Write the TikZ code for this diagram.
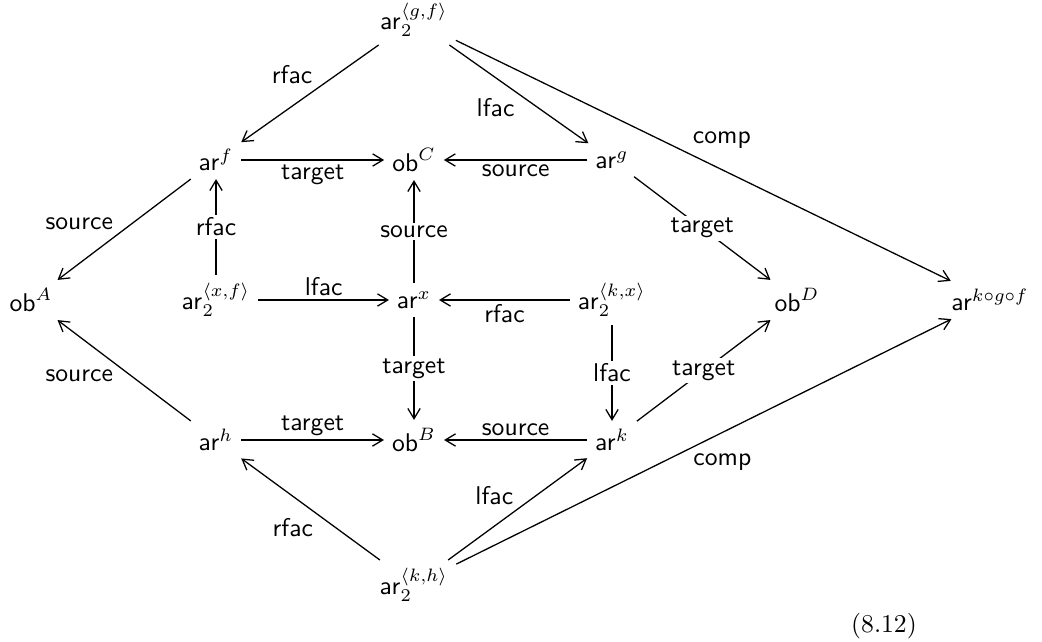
\documentclass[tikz,border=0pt]{standalone}
\usepackage{amsmath}
\usepackage{amssymb}
\usetikzlibrary{arrows.meta}

\tikzset{
  arr/.style={-{Straight Barb[length=4pt,width=4.8pt]},line width=0.5pt},
  obj/.style={inner sep=3pt},
  lbl/.style={font=\sffamily,inner sep=1.5pt},
  onl/.style={font=\sffamily,fill=white,inner sep=1pt}
}

\begin{document}
\begin{tikzpicture}[x=0.39pt,y=-0.39pt]
                      \useasboundingbox (0,0) rectangle (1042,642);
                      \node[obj](gf)at(414,20){$\mathsf{ar}_2^{\langle g,f\rangle}$};
                      \node[obj](f)at(216,160){$\mathsf{ar}^f$};
                      \node[obj](C)at(414,160){$\mathsf{ob}^C$};
                      \node[obj](g)at(612,160){$\mathsf{ar}^g$};
                      \node[obj](A)at(31,300){$\mathsf{ob}^A$};
                      \node[obj](xf)at(216,300){$\mathsf{ar}_2^{\langle x,f\rangle}$};
                      \node[obj](x)at(414,300){$\mathsf{ar}^x$};
                      \node[obj](kx)at(612,300){$\mathsf{ar}_2^{\langle k,x\rangle}$};
                      \node[obj](D)at(797,300){$\mathsf{ob}^D$};
                      \node[obj](kgf)at(990,300){$\mathsf{ar}^{k\circ g\circ f}$};
                      \node[obj](h)at(216,440){$\mathsf{ar}^h$};
                      \node[obj](B)at(414,440){$\mathsf{ob}^B$};
                      \node[obj](k)at(612,440){$\mathsf{ar}^k$};
                      \node[obj](kh)at(414,585){$\mathsf{ar}_2^{\langle k,h\rangle}$};
                      \node(eq)at(884,626){(8.12)};
                      % top half
                      \draw[arr] (gf) -- node[lbl,pos=0.45,above left]{rfac} (f);
                      \draw[arr] (gf) -- node[lbl,below left]{lfac} (g);
                      \draw[arr] (gf) -- node[lbl,pos=0.47,above right]{comp} (kgf);
                      \draw[arr] (f) -- node[lbl,below]{target} (C);
                      \draw[arr] (g) -- node[lbl,below]{source} (C);
                      \draw[arr] (f) -- node[lbl,pos=0.55,above left]{source} (A);
                      \draw[arr] (xf) -- node[onl]{rfac} (f);
                      \draw[arr] (x) -- node[onl]{source} (C);
                      \draw[arr] (g) -- node[onl]{target} (D);
                      % middle row
                      \draw[arr] (xf) -- node[lbl,above]{lfac} (x);
                      \draw[arr] (kx) -- node[lbl,below]{rfac} (x);
                      % bottom half
                      \draw[arr] (x) -- node[onl]{target} (B);
                      \draw[arr] (kx) -- node[onl]{lfac} (k);
                      \draw[arr] (k) -- node[onl]{target} (D);
                      \draw[arr] (h) -- node[lbl,pos=0.55,below left]{source} (A);
                      \draw[arr] (h) -- node[lbl,above]{target} (B);
                      \draw[arr] (k) -- node[lbl,above]{source} (B);
                      \draw[arr] (kh) -- node[lbl,pos=0.45,below left]{rfac} (h);
                      \draw[arr] (kh) -- node[lbl,above left]{lfac} (k);
                      \draw[arr] (kh) -- node[lbl,pos=0.47,below right]{comp} (kgf);
                  \end{tikzpicture}
\end{document}
